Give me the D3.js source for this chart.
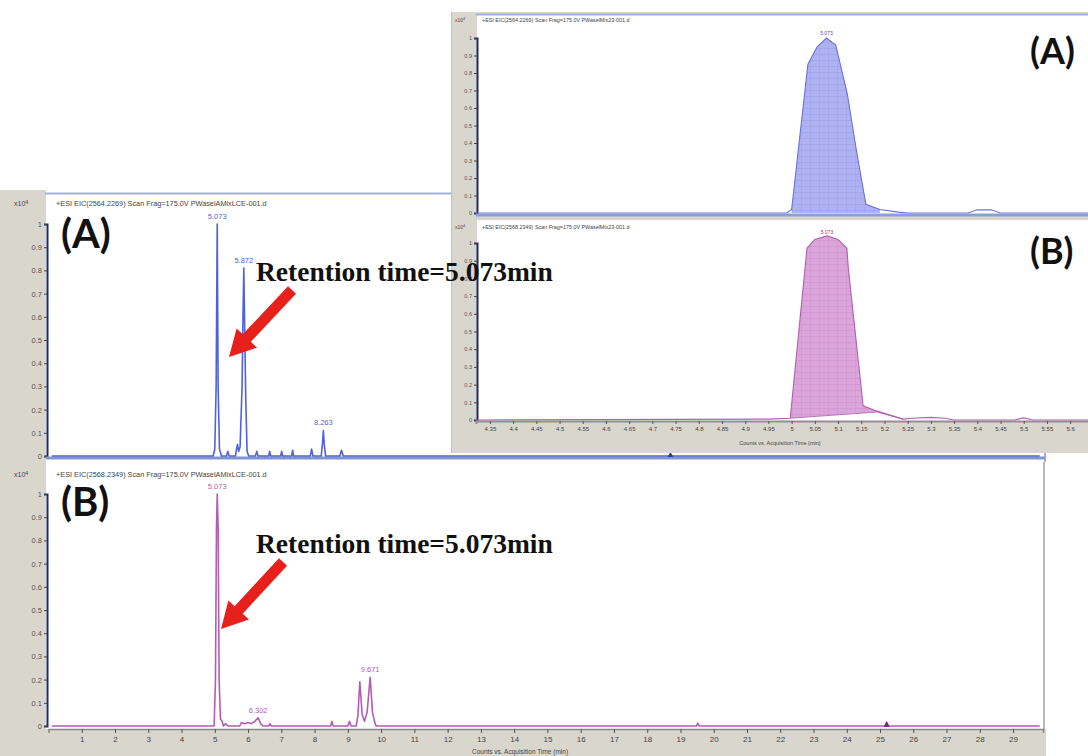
<!DOCTYPE html>
<html>
<head>
<meta charset="utf-8">
<script src="https://cdn.jsdelivr.net/npm/d3@7"></script>
<style>
  body { margin: 0; background: #fff; }
  svg { display: block; }
</style>
</head>
<body>
<svg id="chart" width="1088" height="756"></svg>
<script>
// ---------------- data ----------------
// Full-run extracted ion chromatograms (time in min, relative counts x10^4)
const traceATime = [0.1, 4.95, 5.00, 5.04, 5.073, 5.10, 5.14, 5.20, 5.35, 5.39, 5.43, 5.62, 5.68, 5.72, 5.76, 5.82, 5.85, 5.872, 5.89, 5.93, 5.97, 6.02, 6.22, 6.26, 6.30, 6.62, 6.65, 6.68, 6.98, 7.01, 7.04, 7.31, 7.34, 7.37, 7.87, 7.91, 7.95, 8.20, 8.24, 8.263, 8.29, 8.33, 8.76, 8.81, 8.86, 29.8];
const traceAInt  = [0,   0,    0.03, 0.30, 1.00,  0.30, 0.03, 0,    0,    0.02, 0,    0,    0.05, 0.02, 0.04, 0.30, 0.63, 0.81,  0.63, 0.25, 0.02, 0,    0,    0.02, 0,    0,    0.02, 0,    0,    0.02, 0,    0,    0.025, 0,   0,    0.03, 0,    0,    0.06, 0.11,  0.05, 0,    0,    0.025, 0,  0];

const traceBTime = [0.1, 4.98, 5.02, 5.05, 5.073, 5.10, 5.13, 5.17, 5.22, 5.26, 5.32, 5.40, 5.75, 5.80, 5.90, 6.00, 6.10, 6.20, 6.302, 6.38, 6.45, 6.62, 6.66, 6.70, 8.48, 8.52, 8.56, 9.00, 9.05, 9.10, 9.25, 9.30, 9.36, 9.43, 9.50, 9.58, 9.671, 9.74, 9.80, 9.85, 19.48, 19.52, 19.56, 25.15, 25.20, 25.25, 29.8];
const traceBInt  = [0,   0,    0.20, 0.85, 1.00,  0.85, 0.20, 0.03, 0.02, 0,    0.01, 0,    0,    0.015, 0.01, 0.015, 0.01, 0.02, 0.035, 0.01, 0,    0,    0.01, 0,    0,    0.02, 0,    0,    0.02, 0,    0,    0.04, 0.19, 0.05, 0.02, 0.06, 0.21,  0.06, 0.02, 0,    0,     0.012, 0,     0,     0.015, 0,     0];

// Zoomed view around the 5.073 min peak
const zoomATime = [4.32, 4.99, 5.00, 5.035, 5.055, 5.075, 5.095, 5.12, 5.14, 5.16, 5.19, 5.23, 5.25, 5.38, 5.40, 5.43, 5.45, 5.66];
const zoomAInt  = [0,    0,    0.02, 0.85,  0.95,  1.00,  0.96,  0.68, 0.35, 0.05, 0.02, 0.005, 0,   0,    0.018, 0.018, 0,   0];

const zoomBTime = [4.32, 4.95,  4.997, 5.033, 5.05, 5.076, 5.10, 5.119, 5.122, 5.154, 5.184, 5.24,  5.26, 5.30,  5.33, 5.35, 5.48, 5.50,  5.52, 5.66];
const zoomBInt  = [0,    0.005, 0.01,  0.97,  1.02, 1.04,  1.02, 0.97,  0.86,  0.08,  0.05,  0.005, 0.01, 0.015, 0.01, 0,    0,    0.012, 0,    0];
// integration baseline under the zoomed peak
const zoomBBaseTime = [4.997, 5.184, 5.24];
const zoomBBaseInt  = [0.01,  0.045, 0.005];

// Peak annotations
const peakTimesA   = [5.073, 5.872, 8.263];
const peakHeightsA = [1.00,  0.81,  0.11];
const peakLabelsA  = ["5.073", "5.872", "8.263"];
const peakTimesB   = [5.073, 6.302, 9.671];
const peakHeightsB = [1.00,  0.035, 0.21];
const peakLabelsB  = ["5.073", "6.302", "9.671"];

// Event markers on the time axis
const markerTimesA = [18.7];
const markerTimesB = [25.2];

// Axis ticks
const timeTicks = [1, 2, 3, 4, 5, 6, 7, 8, 9, 10, 11, 12, 13, 14, 15, 16, 17, 18, 19, 20, 21, 22, 23, 24, 25, 26, 27, 28, 29];
const intensityTicks = [0, 0.1, 0.2, 0.3, 0.4, 0.5, 0.6, 0.7, 0.8, 0.9, 1];
const zoomTimeTicks = [4.35, 4.4, 4.45, 4.5, 4.55, 4.6, 4.65, 4.7, 4.75, 4.8, 4.85, 4.9, 4.95, 5, 5.05, 5.1, 5.15, 5.2, 5.25, 5.3, 5.35, 5.4, 5.45, 5.5, 5.55, 5.6];

const headerA = "+ESI EIC(2564.2269) Scan Frag=175.0V PWaselAMixLCE-001.d";
const headerB = "+ESI EIC(2568.2349) Scan Frag=175.0V PWaselAMixLCE-001.d";
const headerZoomA = "+ESI EIC(2564.2269) Scan Frag=175.0V PWaselMix23-001.d";
const headerZoomB = "+ESI EIC(2568.2349) Scan Frag=175.0V PWaselMix23-001.d";
const axisTitle = "Counts vs. Acquisition Time (min)";
const retentionText = "Retention time=5.073min";

// ---------------- drawing ----------------
const svg = d3.select("#chart");
const GRAY = "#d9d6ce";
const BLUE = "#5062d8";
const PINK = "#b35cb3";
const SANS = "'Liberation Sans', Arial, sans-serif";

const defs = svg.append("defs");
function hatch(id, bg, line) {
  const p = defs.append("pattern").attr("id", id).attr("patternUnits", "userSpaceOnUse")
    .attr("width", 9).attr("height", 6);
  p.append("rect").attr("width", 9).attr("height", 6).attr("fill", bg);
  p.append("line").attr("x1", 0).attr("x2", 9).attr("y1", 0.5).attr("y2", 0.5)
    .attr("stroke", line).attr("stroke-width", 0.6);
  p.append("line").attr("x1", 0.5).attr("x2", 0.5).attr("y1", 0).attr("y2", 6)
    .attr("stroke", line).attr("stroke-width", 0.4);
}
hatch("hatchBlue", "#aeb2f2", "#9a9fe6");
hatch("hatchPink", "#dba5db", "#cc90cc");

// Scales
const xMain = d3.scaleLinear().domain([0, 29.9]).range([48.5, 1043]);
const yA = d3.scaleLinear().domain([0, 1]).range([456, 224]);
const yB = d3.scaleLinear().domain([0, 1]).range([726, 494]);
const xZoom = d3.scaleLinear().domain([4.32, 5.66]).range([476, 1098]);
const yZA = d3.scaleLinear().domain([0, 1]).range([213, 38]);
const yZB = d3.scaleLinear().domain([0, 1]).range([420, 243]);

// ---- main window backgrounds ----
svg.append("rect").attr("x", 0).attr("y", 190).attr("width", 46).attr("height", 566).attr("fill", GRAY);
svg.append("rect").attr("x", 0).attr("y", 729).attr("width", 1046).attr("height", 27).attr("fill", GRAY);
svg.append("rect").attr("x", 46).attr("y", 193).attr("width", 999).attr("height", 265).attr("fill", "#fff");
svg.append("line").attr("x1", 45).attr("x2", 1045).attr("y1", 193.5).attr("y2", 193.5)
  .attr("stroke", "#9fb1dc").attr("stroke-width", 2);
svg.append("line").attr("x1", 1045).attr("x2", 1045).attr("y1", 193).attr("y2", 462)
  .attr("stroke", "#9fb1dc").attr("stroke-width", 2);
svg.append("line").attr("x1", 1044).attr("x2", 1044).attr("y1", 462).attr("y2", 730)
  .attr("stroke", "#b9b9b9").attr("stroke-width", 2);

function yAxis(scale, x, size) {
  const g = svg.append("g").attr("transform", `translate(${x},0)`)
    .call(d3.axisLeft(scale).tickValues(intensityTicks).tickSize(3).tickPadding(2)
      .tickFormat(d => d === 0 ? "0" : d === 1 ? "1" : d3.format(".1f")(d)));
  g.select(".domain").attr("stroke", "#1f2a66").attr("stroke-width", 2);
  g.selectAll(".tick line").attr("stroke", "#444");
  g.selectAll(".tick text").attr("font-family", SANS).attr("font-size", size).attr("fill", "#555");
  return g;
}
function expLabel(x, y, size) {
  const t = svg.append("text").attr("x", x).attr("y", y).attr("font-family", SANS)
    .attr("font-size", size).attr("fill", "#444");
  t.append("tspan").text("x10");
  t.append("tspan").attr("dy", -size * 0.35).attr("font-size", size * 0.75).text("4");
}
function header(x, y, size, txt) {
  svg.append("text").attr("x", x).attr("y", y).attr("font-family", SANS)
    .attr("font-size", size).attr("fill", "#444").text(txt);
}

// Panel A (full run)
yAxis(yA, 47, 7.5);
expLabel(14, 206, 7);
header(56, 206, 7.3, headerA);
svg.append("line").attr("x1", 46).attr("x2", 1045).attr("y1", 458).attr("y2", 458)
  .attr("stroke", "#7f95d2").attr("stroke-width", 3);

const lineA = d3.line().x((d, i) => xMain(traceATime[i])).y(d => yA(d));
svg.append("path").datum(traceAInt).attr("d", lineA).attr("fill", "none")
  .attr("stroke", BLUE).attr("stroke-width", 1.6).attr("stroke-linejoin", "round");
svg.selectAll(".plA").data(peakTimesA).join("text")
  .attr("x", d => xMain(d)).attr("y", (d, i) => yA(peakHeightsA[i]) - 5)
  .attr("text-anchor", "middle").attr("font-family", SANS).attr("font-size", 7.5)
  .attr("fill", BLUE).text((d, i) => peakLabelsA[i]);
svg.selectAll(".mkA").data(markerTimesA).join("path")
  .attr("d", d => `M${xMain(d) - 3},${yA(0) + 1}L${xMain(d)},${yA(0) - 4}L${xMain(d) + 3},${yA(0) + 1}Z`)
  .attr("fill", "#2a3aa8");

// Panel B (full run)
svg.append("rect").attr("x", 46).attr("y", 461).attr("width", 997).attr("height", 268).attr("fill", "#fff");
yAxis(yB, 47, 7.5);
expLabel(14, 477, 7);
header(56, 477, 7.3, headerB);

const xAxisB = svg.append("g").attr("transform", "translate(0,729)")
  .call(d3.axisBottom(xMain).tickValues(timeTicks).tickSize(4).tickPadding(3).tickFormat(d3.format("d")));
xAxisB.select(".domain").attr("stroke", "#888").attr("stroke-width", 1.5);
xAxisB.selectAll(".tick line").attr("stroke", "#555");
xAxisB.selectAll(".tick text").attr("font-family", SANS).attr("font-size", 8).attr("fill", "#444");
svg.append("text").attr("x", 520).attr("y", 754).attr("text-anchor", "middle")
  .attr("font-family", SANS).attr("font-size", 6.5).attr("fill", "#444").text(axisTitle);

const lineB = d3.line().x((d, i) => xMain(traceBTime[i])).y(d => yB(d));
svg.append("path").datum(traceBInt).attr("d", lineB).attr("fill", "none")
  .attr("stroke", PINK).attr("stroke-width", 1.6).attr("stroke-linejoin", "round");
svg.selectAll(".plB").data(peakTimesB).join("text")
  .attr("x", d => xMain(d)).attr("y", (d, i) => yB(peakHeightsB[i]) - 5)
  .attr("text-anchor", "middle").attr("font-family", SANS).attr("font-size", 7.5)
  .attr("fill", PINK).text((d, i) => peakLabelsB[i]);
svg.selectAll(".mkB").data(markerTimesB).join("path")
  .attr("d", d => `M${xMain(d) - 3},${yB(0) + 1}L${xMain(d)},${yB(0) - 5}L${xMain(d) + 3},${yB(0) + 1}Z`)
  .attr("fill", "#7a2a7a");

// ---- zoom window ----
svg.append("rect").attr("x", 452).attr("y", 12).attr("width", 636).attr("height", 441).attr("fill", GRAY);
svg.append("line").attr("x1", 451.5).attr("x2", 451.5).attr("y1", 12).attr("y2", 453)
  .attr("stroke", "#c4c1b9").attr("stroke-width", 1);
svg.append("rect").attr("x", 477).attr("y", 14).attr("width", 611).attr("height", 201).attr("fill", "#fff");
svg.append("line").attr("x1", 476).attr("x2", 1088).attr("y1", 14.5).attr("y2", 14.5)
  .attr("stroke", "#9fb1dc").attr("stroke-width", 2);
svg.append("rect").attr("x", 477).attr("y", 220).attr("width", 611).attr("height", 201).attr("fill", "#fff");

yAxis(yZA, 477, 5.5);
yAxis(yZB, 477, 5.5);
expLabel(455, 22, 5);
expLabel(455, 229, 5);
header(482, 22, 5.4, headerZoomA);
header(482, 229, 5.4, headerZoomB);

// Zoom A: filled peak
const areaZA = d3.area().x((d, i) => xZoom(zoomATime[i])).y0(yZA(0)).y1(d => yZA(d))
  .defined((d, i) => zoomATime[i] >= 5.0 && zoomATime[i] <= 5.19);
svg.append("path").datum(zoomAInt).attr("d", areaZA).attr("fill", "url(#hatchBlue)");
const lineZA = d3.line().x((d, i) => xZoom(zoomATime[i])).y(d => yZA(d));
svg.append("path").datum(zoomAInt).attr("d", lineZA).attr("fill", "none")
  .attr("stroke", "#6a72d8").attr("stroke-width", 1.1);
svg.append("line").attr("x1", 476).attr("x2", 1088).attr("y1", 215).attr("y2", 215)
  .attr("stroke", "#8a9fd6").attr("stroke-width", 3);

// Zoom B: filled peak above its integration baseline
const baseB = d3.scaleLinear().domain(zoomBBaseTime).range(zoomBBaseInt).clamp(true);
const areaZB = d3.area().x((d, i) => xZoom(zoomBTime[i]))
  .y0((d, i) => yZB(baseB(zoomBTime[i]))).y1(d => yZB(d))
  .defined((d, i) => zoomBTime[i] >= 4.997 && zoomBTime[i] <= 5.24);
svg.append("path").datum(zoomBInt).attr("d", areaZB).attr("fill", "url(#hatchPink)");
const lineZB = d3.line().x((d, i) => xZoom(zoomBTime[i])).y(d => yZB(d));
svg.append("path").datum(zoomBInt).attr("d", lineZB).attr("fill", "none")
  .attr("stroke", "#b060b0").attr("stroke-width", 1.1);
svg.append("path").datum(zoomBBaseInt)
  .attr("d", d3.line().x((d, i) => xZoom(zoomBBaseTime[i])).y(d => yZB(d)))
  .attr("fill", "none").attr("stroke", "#b060b0").attr("stroke-width", 0.8);

const xAxisZ = svg.append("g").attr("transform", "translate(0,421)")
  .call(d3.axisBottom(xZoom).tickValues(zoomTimeTicks).tickSize(3).tickPadding(3)
    .tickFormat(d => String(+d.toFixed(2))));
xAxisZ.select(".domain").attr("stroke", "#9a8a9a").attr("stroke-width", 2);
xAxisZ.selectAll(".tick line").attr("stroke", "#555");
xAxisZ.selectAll(".tick text").attr("font-family", SANS).attr("font-size", 6).attr("fill", "#444");
svg.append("text").attr("x", 780).attr("y", 445).attr("text-anchor", "middle")
  .attr("font-family", SANS).attr("font-size", 5.5).attr("fill", "#444").text(axisTitle);

svg.append("text").attr("x", xZoom(5.075)).attr("y", yZA(1) - 3).attr("text-anchor", "middle")
  .attr("font-family", SANS).attr("font-size", 5).attr("fill", "#4a52b0").text("5.073");
svg.append("text").attr("x", xZoom(5.076)).attr("y", yZB(1.04) - 2).attr("text-anchor", "middle")
  .attr("font-family", SANS).attr("font-size", 5).attr("fill", "#8a3a8a").text("5.073");

// ---- annotations ----
function panelLabel(x, y, size, txt) {
  svg.append("text").attr("x", x).attr("y", y).attr("font-family", "Lato, 'Open Sans', sans-serif")
    .attr("font-weight", "bold").attr("font-size", size).attr("fill", "#111").text(txt);
}
panelLabel(61, 248, 40, "(A)");
panelLabel(61, 516, 40, "(B)");
panelLabel(1030, 64, 36, "(A)");
panelLabel(1030, 264, 36, "(B)");

function retention(x, y) {
  svg.append("text").attr("x", x).attr("y", y)
    .attr("font-family", "'Liberation Serif', 'Times New Roman', serif")
    .attr("font-weight", "bold").attr("font-size", 27.5).attr("fill", "#111").text(retentionText);
}
retention(256, 281);
retention(256, 553);

function arrow(x1, y1, x2, y2) {
  const dx = x2 - x1, dy = y2 - y1, L = Math.hypot(dx, dy);
  const ux = dx / L, uy = dy / L, nx = -uy, ny = ux;
  const sw = 5.5, hw = 14, hl = 26;
  const bx = x2 - ux * hl, by = y2 - uy * hl;
  const pts = [
    [x1 + nx * sw, y1 + ny * sw], [bx + nx * sw, by + ny * sw], [bx + nx * hw, by + ny * hw],
    [x2, y2], [bx - nx * hw, by - ny * hw], [bx - nx * sw, by - ny * sw], [x1 - nx * sw, y1 - ny * sw]
  ];
  svg.append("path").attr("d", "M" + pts.map(p => p.join(",")).join("L") + "Z").attr("fill", "#e8201c");
}
arrow(292, 290, 229, 357);
arrow(283, 562, 221, 629);
</script>
</body>
</html>
